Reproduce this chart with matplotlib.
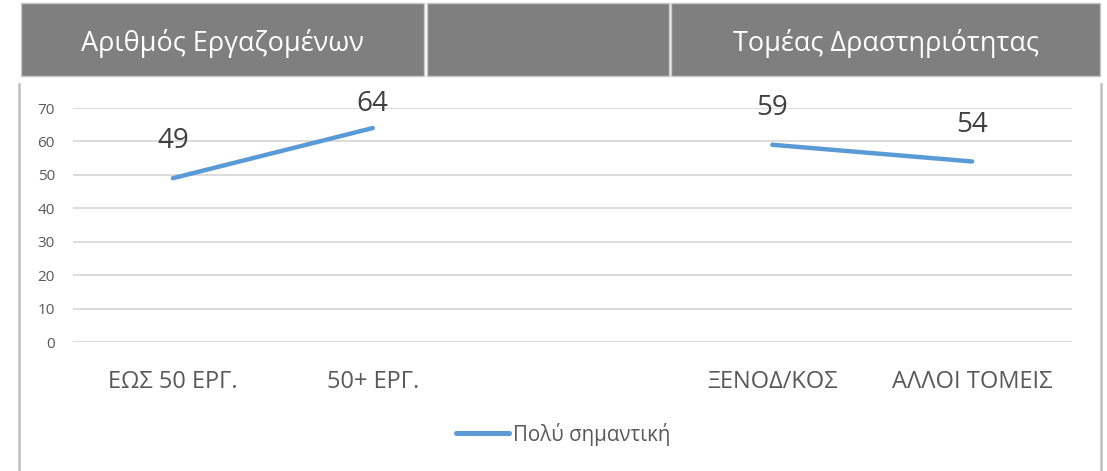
import numpy as np
import matplotlib
matplotlib.use("Agg")
import matplotlib.pyplot as plt
from matplotlib.patches import Rectangle
from matplotlib.lines import Line2D

plt.rcParams['font.family'] = ['Open Sans', 'DejaVu Sans']

# data
categories = ["ΕΩΣ 50 ΕΡΓ.", "50+ ΕΡΓ.", "", "ΞΕΝΟΔ/ΚΟΣ", "ΑΛΛΟΙ ΤΟΜΕΙΣ"]
values = [49, 64, np.nan, 59, 54]
series_name = "Πολύ σημαντική"
headers = ["Αριθμός Εργαζομένων", "", "Τομέας Δραστηριότητας"]
yticks = [0, 10, 20, 30, 40, 50, 60, 70]

W, H = 1107, 471
fig = plt.figure(figsize=(W / 100, H / 100), dpi=100)

def fx(px):
    return px / W

def fy(py):
    return 1 - py / H

# header boxes (pixel edges)
box_edges = [(21, 424), (427, 669), (671, 1100)]
for (x0, x1), title in zip(box_edges, headers):
    fig.patches.append(Rectangle((fx(x0), fy(76)), fx(x1 - x0), (76 - 3) / H,
                                 transform=fig.transFigure, facecolor="#7F7F7F",
                                 edgecolor="#C8C8C8", linewidth=1))
    if title:
        fig.text(fx((x0 + x1) / 2), fy(43), title, color="white", fontsize=19.5,
                 ha="center", va="center")

# side borders
for x in (19, 1101):
    fig.add_artist(Line2D([fx(x), fx(x)], [fy(84), 0], transform=fig.transFigure,
                          color="#BFBFBF", linewidth=1.8))

ax = fig.add_axes([fx(73), fy(342), fx(1072 - 73), (342 - 108) / H])
x = np.arange(len(categories))
ax.plot(x, values, color="#5B9BD5", linewidth=3.2, solid_capstyle="round",
        label=series_name)

for xi, v in zip(x, values):
    if np.isnan(v):
        continue
    ax.text(xi, min(v + 11, 71.3), f"{v:g}", ha="center", va="center",
            fontsize=20, color="#404040", clip_on=False)

ax.set_xlim(-0.5, len(categories) - 0.5)
ax.set_ylim(0, 70)
ax.set_yticks(yticks)
ax.set_xticks(x)
ax.set_xticklabels(categories)
ax.grid(axis="y", color="#D9D9D9", linewidth=1.3)
ax.set_axisbelow(True)
for s in ax.spines.values():
    s.set_visible(False)
ax.tick_params(axis="y", length=0, pad=13, labelsize=11, labelcolor="#595959")
ax.tick_params(axis="x", length=0, pad=20, labelsize=17, labelcolor="#595959")

leg = fig.legend(loc="center", bbox_to_anchor=(fx(563), fy(434)), frameon=False,
                 fontsize=14.8, handlelength=2.6, handletextpad=0.15)
for line in leg.get_lines():
    line.set_linewidth(3.6)
for t in leg.get_texts():
    t.set_color("#595959")

fig.savefig("out.png", dpi=100)
